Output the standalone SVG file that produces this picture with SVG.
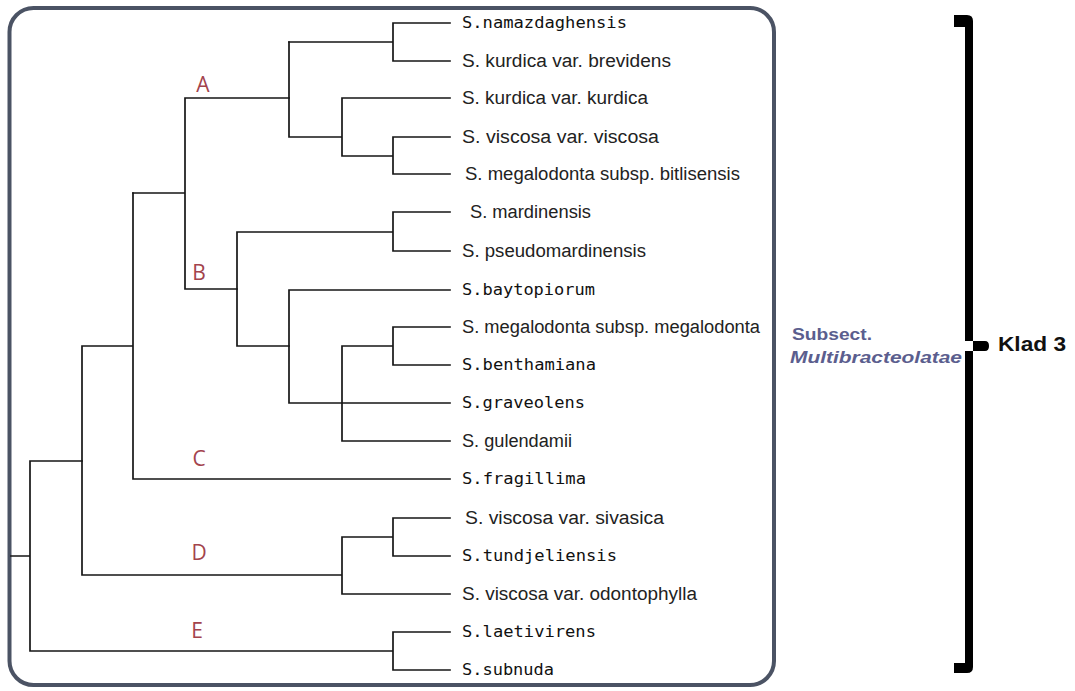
<svg xmlns="http://www.w3.org/2000/svg" width="1075" height="691" viewBox="0 0 1075 691">
  <defs>
    <style>
      .frame { fill: #ffffff; stroke: #4b5364; stroke-width: 4; }
      .edge { fill: none; stroke: #161616; stroke-width: 1.7; stroke-linecap: square; }
      .sans { font-family: "Liberation Sans", Arial, sans-serif; font-size: 18px; fill: #222222; }
      .mono { font-family: "DejaVu Sans Mono", "Liberation Mono", monospace; font-size: 15.5px; fill: #111111; }
      .clade { font-family: "Open Sans", "Liberation Sans", sans-serif; font-size: 21px; fill: #a3434c; text-anchor: middle; }
      .subsect { font-family: "Liberation Sans", Arial, sans-serif; font-size: 17px; font-weight: bold; fill: #5b5e8e; }
      .klad { font-family: "Liberation Sans", Arial, sans-serif; font-size: 20px; font-weight: bold; fill: #111111; }
      .bracket { fill: #000000; }
    </style>
  </defs>
  <rect width="1075" height="691" fill="#ffffff"/>
  <rect id="frame" class="frame" x="9.5" y="8" width="764.5" height="677" rx="24" ry="24"/>

  <g id="connectors">
    <path class="edge" d="M393 23 H450 M393 61 H450 M393 23 V61 M289 42 H393"/>
    <path class="edge" d="M342 98 H450 M393 137 H450 M393 174 H450 M393 137 V174 M342 156 H393 M342 98 V156 M289 137 H342 M289 42 V137"/>
    <path class="edge" d="M185 98 H289 M185 98 V289 M133 193 H185 M185 289 H237"/>
    <path class="edge" d="M237 232 V346 M237 232 H393 M393 212 V251 M393 212 H450 M393 251 H450 M237 346 H289"/>
    <path class="edge" d="M289 290 V403 M289 290 H450 M289 403 H450 M342 346 V441 M342 346 H393 M393 327 V365 M393 327 H450 M393 365 H450 M342 441 H450"/>
    <path class="edge" d="M133 193 V479 M133 479 H450 M82 346 H133 M82 346 V575 M82 575 H342 M342 537 V594 M342 537 H393 M393 518 V556 M393 518 H450 M393 556 H450 M342 594 H450"/>
    <path class="edge" d="M30 461 H82 M30 461 V651 M30 651 H393 M393 632 V670 M393 632 H450 M393 670 H450 M11 556 H30"/>
  </g>

  <g id="clade-labels">
    <text id="label-A" class="clade" x="203" y="92">A</text>
    <text id="label-B" class="clade" x="199" y="280">B</text>
    <text id="label-C" class="clade" x="199" y="466">C</text>
    <text id="label-D" class="clade" x="199" y="560">D</text>
    <text id="label-E" class="clade" x="197" y="638">E</text>
  </g>

  <g id="leaves">
    <text id="leaf-1" class="mono" x="462" y="28" textLength="165" lengthAdjust="spacingAndGlyphs">S.namazdaghensis</text>
    <text id="leaf-2" class="sans" x="462" y="67" textLength="209" lengthAdjust="spacingAndGlyphs">S. kurdica var. brevidens</text>
    <text id="leaf-3" class="sans" x="462" y="104" textLength="186" lengthAdjust="spacingAndGlyphs">S. kurdica var. kurdica</text>
    <text id="leaf-4" class="sans" x="462" y="143" textLength="197" lengthAdjust="spacingAndGlyphs">S. viscosa var. viscosa</text>
    <text id="leaf-5" class="sans" x="465" y="180" textLength="275" lengthAdjust="spacingAndGlyphs">S. megalodonta subsp. bitlisensis</text>
    <text id="leaf-6" class="sans" x="470" y="218" textLength="121" lengthAdjust="spacingAndGlyphs">S. mardinensis</text>
    <text id="leaf-7" class="sans" x="462" y="257" textLength="184" lengthAdjust="spacingAndGlyphs">S. pseudomardinensis</text>
    <text id="leaf-8" class="mono" x="462" y="295" textLength="133" lengthAdjust="spacingAndGlyphs">S.baytopiorum</text>
    <text id="leaf-9" class="sans" x="462" y="333" textLength="298" lengthAdjust="spacingAndGlyphs">S. megalodonta subsp. megalodonta</text>
    <text id="leaf-10" class="mono" x="462" y="370" textLength="134" lengthAdjust="spacingAndGlyphs">S.benthamiana</text>
    <text id="leaf-11" class="mono" x="462" y="408" textLength="123" lengthAdjust="spacingAndGlyphs">S.graveolens</text>
    <text id="leaf-12" class="sans" x="462" y="447" textLength="110" lengthAdjust="spacingAndGlyphs">S. gulendamii</text>
    <text id="leaf-13" class="mono" x="462" y="484" textLength="124" lengthAdjust="spacingAndGlyphs">S.fragillima</text>
    <text id="leaf-14" class="sans" x="465" y="524" textLength="199" lengthAdjust="spacingAndGlyphs">S. viscosa var. sivasica</text>
    <text id="leaf-15" class="mono" x="462" y="561" textLength="155" lengthAdjust="spacingAndGlyphs">S.tundjeliensis</text>
    <text id="leaf-16" class="sans" x="462" y="600" textLength="235" lengthAdjust="spacingAndGlyphs">S. viscosa var. odontophylla</text>
    <text id="leaf-17" class="mono" x="462" y="637" textLength="134" lengthAdjust="spacingAndGlyphs">S.laetivirens</text>
    <text id="leaf-18" class="mono" x="462" y="675" textLength="92" lengthAdjust="spacingAndGlyphs">S.subnuda</text>
  </g>

  <g id="subsection">
    <text class="subsect" x="792" y="340" textLength="80" lengthAdjust="spacingAndGlyphs">Subsect.</text>
    <text class="subsect" x="790" y="363" font-style="italic" textLength="172" lengthAdjust="spacingAndGlyphs">Multibracteolatae</text>
  </g>

  <g id="klad-3">
    <path class="bracket" d="M954 15 H967 Q973 15 973 21 V667 Q973 673 967 673 H954 V663 H965 V351 H985 Q989 351 989 346 Q989 341 985 341 H965 V27 H954 Z"/>
    <text class="klad" x="998" y="351" textLength="68" lengthAdjust="spacingAndGlyphs">Klad 3</text>
  </g>
</svg>
